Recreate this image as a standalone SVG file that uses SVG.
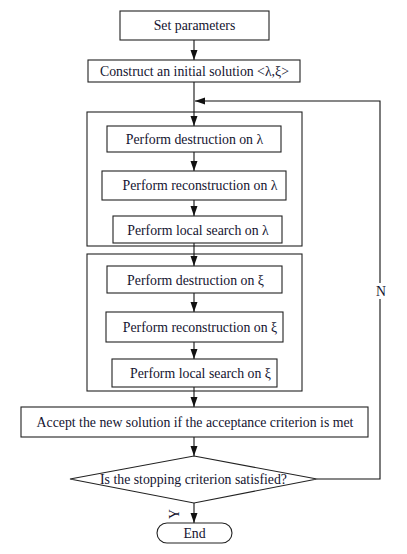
<svg xmlns="http://www.w3.org/2000/svg" width="407" height="554" viewBox="0 0 407 554">
<defs>
<style>
.box{fill:#fff;stroke:#222;stroke-width:1.1}
.grp{fill:none;stroke:#222;stroke-width:1.1}
.t{font-family:"Liberation Serif","Times New Roman",serif;font-size:13.8px;fill:#141430;text-anchor:middle}
.c{fill:none;stroke:#111;stroke-width:1.1}
</style>
<marker id="ah" markerUnits="userSpaceOnUse" markerWidth="10" markerHeight="10" viewBox="0 0 10 10" refX="10" refY="5" orient="auto">
<path d="M0,1.5 L10,5 L0,8.5 Z" fill="#111"/>
</marker>
</defs>
<rect width="407" height="554" fill="#fff"/>
<g id="group-lambda"><rect class="grp" x="87" y="112" width="215" height="134"/></g>
<g id="group-xi"><rect class="grp" x="87" y="254" width="215" height="137"/></g>
<g id="connectors">
<line class="c" x1="194" y1="40" x2="194" y2="60" marker-end="url(#ah)"/>
<line class="c" x1="194" y1="82" x2="194" y2="126" marker-end="url(#ah)"/>
<line class="c" x1="194" y1="152" x2="194" y2="171" marker-end="url(#ah)"/>
<line class="c" x1="194" y1="200" x2="194" y2="216" marker-end="url(#ah)"/>
<line class="c" x1="194" y1="243" x2="194" y2="266" marker-end="url(#ah)"/>
<line class="c" x1="194" y1="293" x2="194" y2="312" marker-end="url(#ah)"/>
<line class="c" x1="194" y1="342" x2="194" y2="359" marker-end="url(#ah)"/>
<line class="c" x1="194" y1="387" x2="194" y2="407" marker-end="url(#ah)"/>
<line class="c" x1="194" y1="437" x2="194" y2="456" marker-end="url(#ah)"/>
<line class="c" x1="194" y1="503" x2="194" y2="523" marker-end="url(#ah)"/>
<polyline class="c" points="317,479 380,479 380,101 195,101" marker-end="url(#ah)"/>
<rect x="374" y="283" width="14" height="16" fill="#fff"/>
<text class="t" x="381" y="296">N</text>
<text class="t" transform="translate(179,514) rotate(-90)">Y</text>
</g>
<g id="n1"><rect class="box" x="120" y="11" width="149" height="29"/><text class="t" x="194.5" y="30">Set parameters</text></g>
<g id="n2"><rect class="box" x="88" y="60" width="212" height="22"/><text class="t" x="194.5" y="76">Construct an initial solution &lt;λ,ξ&gt;</text></g>
<g id="n3"><rect class="box" x="107" y="126" width="174" height="26"/><text class="t" x="194.5" y="144">Perform destruction on λ</text></g>
<g id="n4"><rect class="box" x="102" y="171" width="184" height="29"/><text class="t" x="200" y="190">Perform reconstruction on λ</text></g>
<g id="n5"><rect class="box" x="113" y="216" width="169" height="27"/><text class="t" x="198" y="235">Perform local search on λ</text></g>
<g id="n6"><rect class="box" x="107" y="266" width="175" height="27"/><text class="t" x="195.5" y="284.5">Perform destruction on ξ</text></g>
<g id="n7"><rect class="box" x="106" y="312" width="177" height="30"/><text class="t" x="200" y="331.5">Perform reconstruction on ξ</text></g>
<g id="n8"><rect class="box" x="112" y="359" width="165" height="28"/><text class="t" x="200.5" y="378">Perform local search on ξ</text></g>
<g id="n9"><rect class="box" x="21" y="407" width="347" height="30"/><text class="t" x="195" y="427">Accept the new solution if the acceptance criterion is met</text></g>
<g id="n10"><polygon class="box" points="194,456 317,479 194,503 70,479"/><text class="t" x="193.5" y="484">Is the stopping criterion satisfied?</text></g>
<g id="n11"><rect class="box" x="157" y="523" width="75" height="20" rx="10" ry="10"/><text class="t" x="194.5" y="538">End</text></g>
</svg>
